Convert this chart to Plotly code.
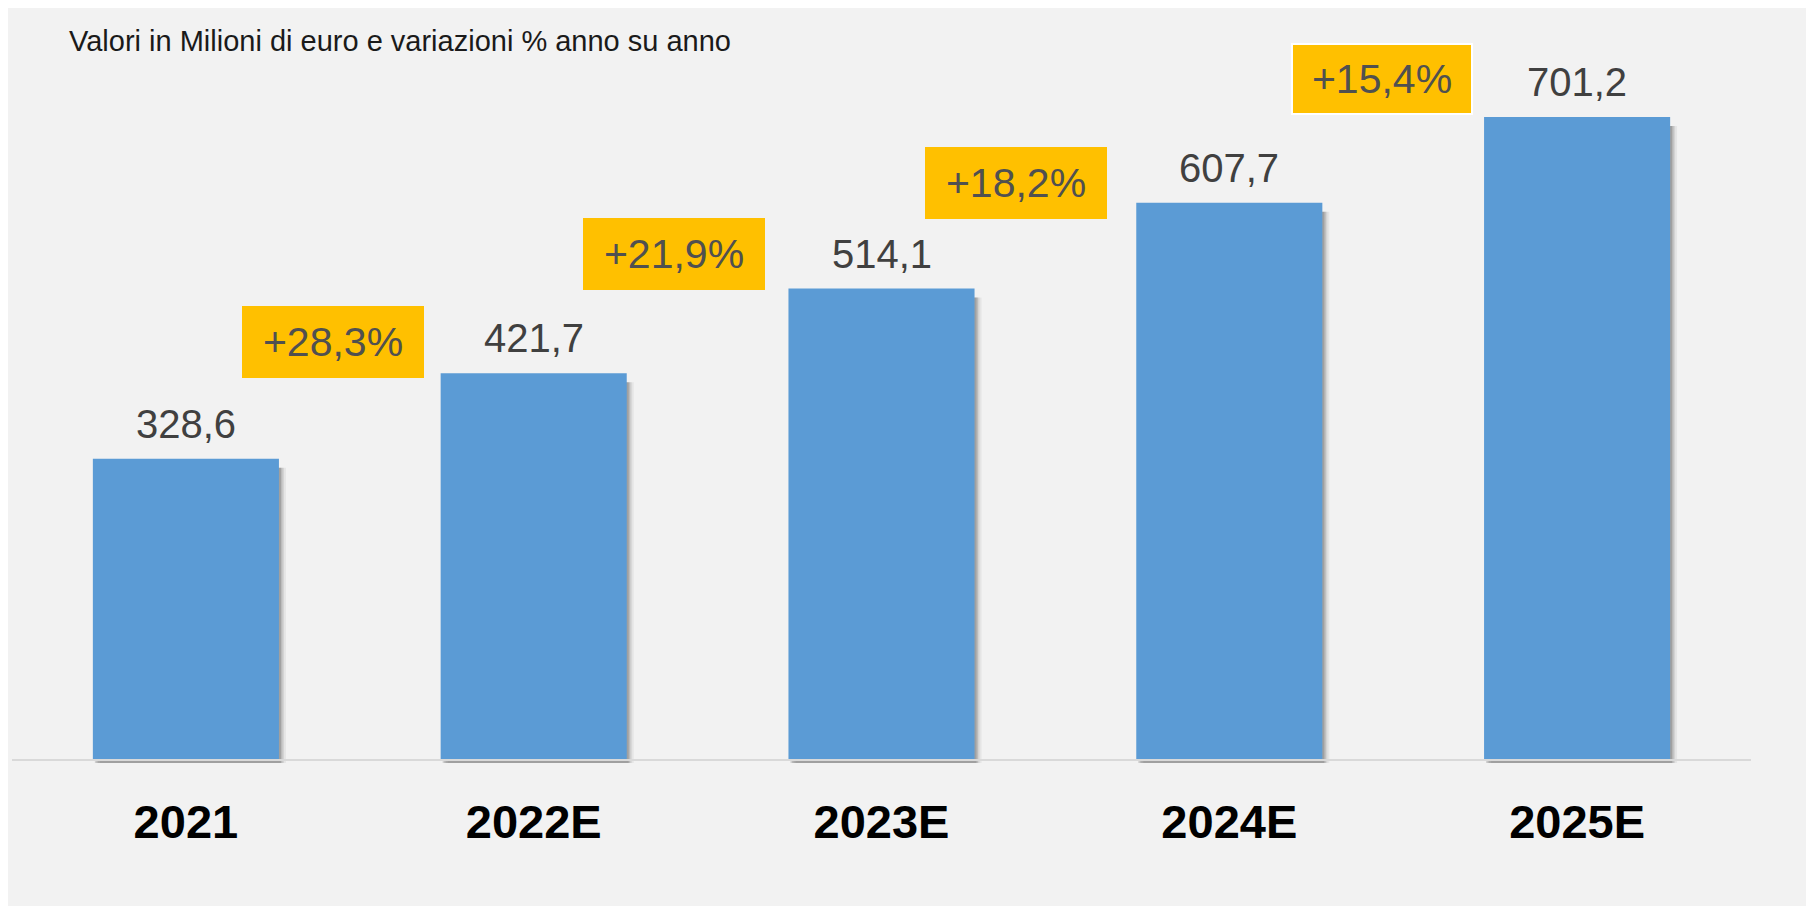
import plotly.graph_objects as go

# ---- data ----
categories = ["2021", "2022E", "2023E", "2024E", "2025E"]
values = [328.6, 421.7, 514.1, 607.7, 701.2]
growth = [28.3, 21.9, 18.2, 15.4]          # % change vs previous year
title_text = "Valori in Milioni di euro e variazioni % anno su anno"

# ---- styles / positions ----
BAR_COLOR = "#5B9BD5"
BOX_COLOR = "#FFC000"
BG = "#F2F2F2"
FONT = "Liberation Sans, Arial, sans-serif"
PX_PER_UNIT = 0.917
CAT_PX = 347.8
BAR_W = 0.535
box_xshift = [-27, -34, -39, -21]
box_yshift = [31, 35, 20, 38]
box_border = [0, 0, 0, 2]

def it(v, fmt="{:.1f}"):
    return fmt.format(v).replace(".", ",")

fig = go.Figure()

# soft shadow layers (right / bottom), drawn behind bars
for dx, alpha in [(7, 0.05), (5, 0.08), (3.5, 0.11), (2, 0.14)]:
    fig.add_trace(go.Bar(
        x=categories, y=[v - 6 / PX_PER_UNIT for v in values],
        base=-3 / PX_PER_UNIT, width=BAR_W,
        offset=-BAR_W / 2 + dx / CAT_PX,
        marker=dict(color=f"rgba(0,0,0,{alpha})", line=dict(width=0)),
        hoverinfo="skip", showlegend=False))

fig.add_trace(go.Bar(
    x=categories, y=values, width=BAR_W,
    marker=dict(color=BAR_COLOR, line=dict(width=0)),
    showlegend=False))

annotations = []
# value labels
for k, v in enumerate(values):
    annotations.append(dict(
        x=k, y=v, xref="x", yref="y", text=it(v), showarrow=False,
        yanchor="bottom", yshift=11,
        font=dict(family=FONT, size=40, color="#404040")))

# growth boxes between bars
for k, g in enumerate(growth):
    annotations.append(dict(
        x=k + 0.5, y=values[k + 1], xref="x", yref="y",
        text="+" + it(g) + "%", showarrow=False,
        xanchor="center", yanchor="middle",
        xshift=box_xshift[k], yshift=box_yshift[k],
        width=182 - 2 * box_border[k], height=72 - 2 * box_border[k],
        bgcolor=BOX_COLOR, borderpad=0,
        bordercolor="white", borderwidth=box_border[k],
        font=dict(family=FONT, size=41, color="#505050")))

# subtitle
annotations.append(dict(
    x=0.0316, y=0.959, xref="paper", yref="paper", text=title_text,
    showarrow=False, xanchor="left", yanchor="middle",
    font=dict(family=FONT, size=29, color="#1A1A1A")))

fig.update_layout(
    width=1814, height=906,
    margin=dict(l=4, r=71, t=2, b=148),
    paper_bgcolor=BG, plot_bgcolor=BG,
    barmode="overlay",
    annotations=annotations,
    shapes=[
        # baseline
        dict(type="line", xref="paper", yref="y", x0=0, x1=1, y0=0, y1=0,
             line=dict(color="#D9D9D9", width=2), layer="above"),
    ],
    xaxis=dict(type="category", showgrid=False, zeroline=False, showline=False,
               ticks="", range=[-0.5, 4.5],
               tickfont=dict(family=FONT, size=47, color="#000000", weight="bold"),
               ticklabelstandoff=24),
    yaxis=dict(visible=False,
               range=[-6 / PX_PER_UNIT, -6 / PX_PER_UNIT + 756 / PX_PER_UNIT]),
)

fig.write_html("out.html")
